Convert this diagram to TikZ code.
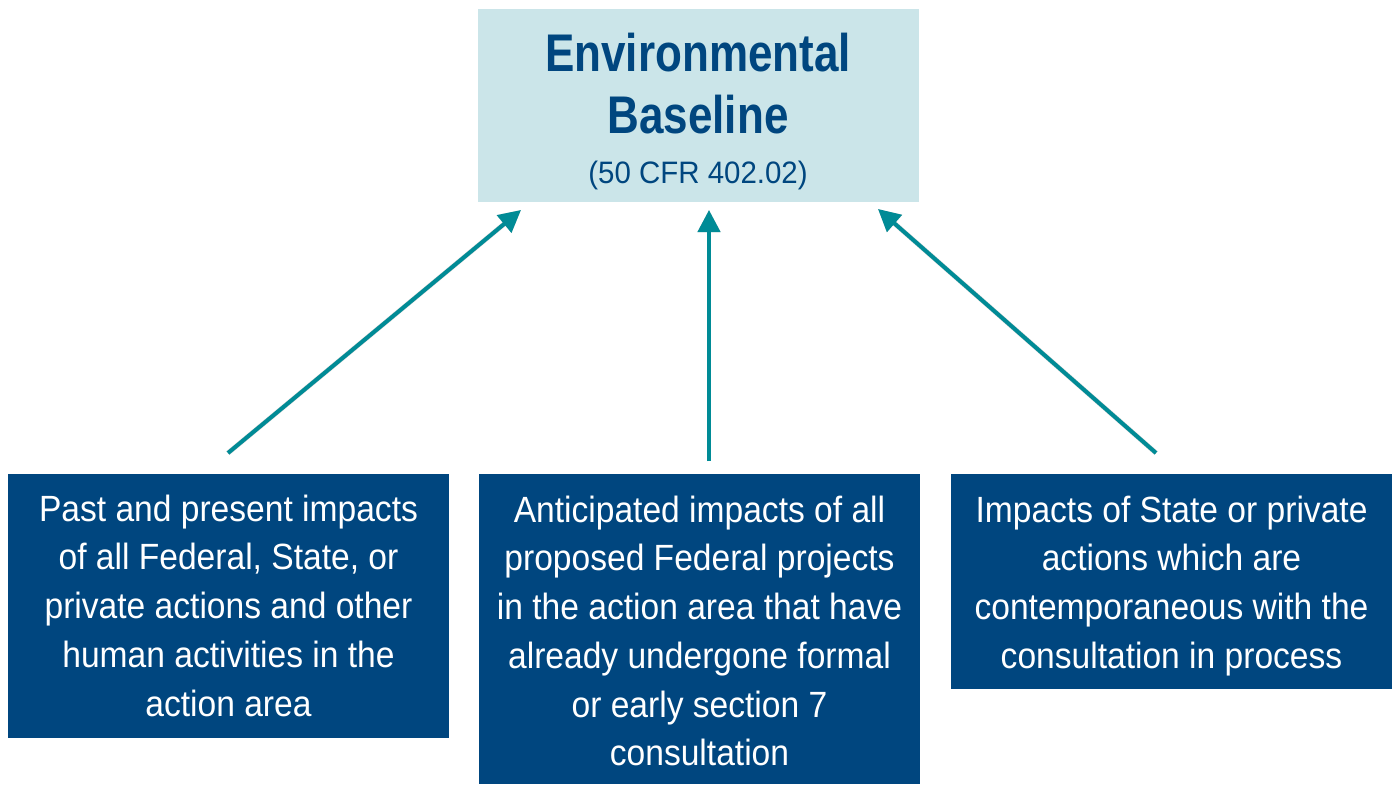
\documentclass[tikz,border=0pt]{standalone}
\usepackage{fontspec}
\setmainfont{Liberation Sans}
\newfontfamily\bodyfont[FakeStretch=0.92]{Liberation Sans}
\newfontfamily\titlefont[FakeStretch=0.83]{Liberation Sans}
\newfontfamily\subfont[FakeStretch=0.95]{Liberation Sans}
\usetikzlibrary{arrows.meta}
\definecolor{navy}{RGB}{0,70,127}
\definecolor{lightteal}{RGB}{203,229,233}
\definecolor{arrowteal}{RGB}{0,139,150}
\begin{document}
\begin{tikzpicture}[x=0.5pt,y=-0.5pt,
  boxbase/.style={draw=none, inner sep=0pt, minimum width=220.5pt, anchor=north west},
  topbox/.style={boxbase, fill=lightteal, minimum height=96.5pt},
  navybox/.style={boxbase, fill=navy},
  bodytext/.style={text=white, align=center, inner sep=0pt, anchor=north,
    font=\bodyfont\fontsize{18.25}{24.35}\selectfont},
  arr/.style={draw=arrowteal, line width=2pt, -{Triangle[length=11pt,width=11pt]}},
  arrshadow/.style={draw=black, opacity=0.18, line width=2.4pt, -{Triangle[length=11pt,width=11pt]}}
]
\useasboundingbox (0,0) rectangle (1398,784);
\fill[white] (0,0) rectangle (1398,784);

% top box
\node[topbox] (top) at (478,9) {};
\node[text=navy, align=center, inner sep=0pt, anchor=north,
  font=\titlefont\bfseries\fontsize{26.5}{31}\selectfont] (title) at (698,32.3) {Environmental\\Baseline};
\node[text=navy, inner sep=0pt, anchor=base,
  font=\subfont\fontsize{15.5}{18}\selectfont] (cfr) at (698,183) {(50 CFR 402.02)};

% bottom boxes
\node[navybox, minimum height=132pt] (left) at (8,474) {};
\node[navybox, minimum height=155pt] (mid) at (479,474) {};
\node[navybox, minimum height=107.5pt] (right) at (951,474) {};

\node[bodytext] (lefttext) at (228.5,494.4) {Past and present impacts\\of all Federal, State, or\\private actions and other\\human activities in the\\action area};
\node[bodytext] (midtext) at (699.5,495.4) {Anticipated impacts of all\\proposed Federal projects\\in the action area that have\\already undergone formal\\or early section 7\\consultation};
\node[bodytext] (righttext) at (1171.5,495.4) {Impacts of State or private\\actions which are\\contemporaneous with the\\consultation in process};

% arrow end points
\coordinate (s1) at (228,453);
\coordinate (e1) at (521,210);
\coordinate (s2) at (709,461);
\coordinate (e2) at (709,210);
\coordinate (s3) at (1156,453);
\coordinate (e3) at (878,209);

\begin{scope}[shift={(2,3)}]
  \draw[arrshadow] (s1) -- (e1);
  \draw[arrshadow] (s2) -- (e2);
  \draw[arrshadow] (s3) -- (e3);
\end{scope}
\draw[arr] (s1) -- (e1);
\draw[arr] (s2) -- (e2);
\draw[arr] (s3) -- (e3);
\end{tikzpicture}
\end{document}
